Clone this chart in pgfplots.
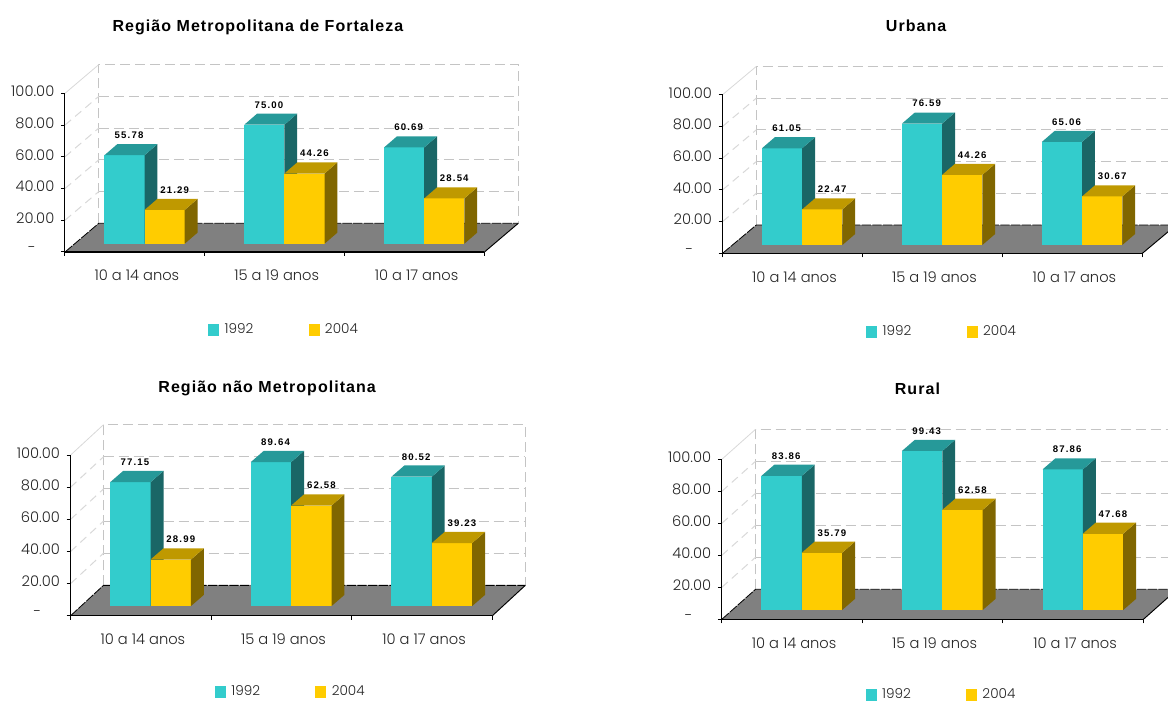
\documentclass[border=0pt]{standalone}
\usepackage{fontspec}
\usepackage{pgfplots}
\pgfplotsset{compat=1.18}
\setmainfont{Poppins}[UprightFont=* Light]
\newfontfamily\titlefont[LetterSpace=6.5]{Liberation Sans}
\newfontfamily\valuefont[LetterSpace=12]{Liberation Sans}

\definecolor{cyanfront}{HTML}{33CCCC}
\definecolor{cyanside}{HTML}{1A6666}
\definecolor{cyantop}{HTML}{269999}
\definecolor{goldfront}{HTML}{FFCC00}
\definecolor{goldside}{HTML}{806600}
\definecolor{goldtop}{HTML}{BF9900}
\definecolor{floorgray}{HTML}{808080}
\definecolor{wallgray}{HTML}{C4C4C4}
\definecolor{sidewall}{HTML}{D8D8D8}
\definecolor{labelgray}{HTML}{262626}

\tikzset{vlabel/.style={font=\valuefont\bfseries\fontsize{7.2}{8}\selectfont,inner sep=0pt,anchor=center}}

% depth of the room and of the bars, in axis units
\newcommand{\setroom}[3]{\def\dX{#1}\def\dY{#2}\def\baseY{#3}\def\bw{0.287}\def\bdx{0.092}\def\bdy{7}}

% floor, back wall and side wall of the chart room
\newcommand{\drawroom}{%
  \pgfmathsetmacro\xbl{\dX}\pgfmathsetmacro\xbr{3+\dX}%
  \pgfmathsetmacro\ytop{100+\dY}%
  \addplot[draw=wallgray,line width=0.75pt,dash pattern=on 7.5pt off 3.75pt,forget plot]
    coordinates {(\xbl,\dY)(\xbl,\ytop)(\xbr,\ytop)(\xbr,\dY)};
  \pgfplotsinvokeforeach{20,40,60,80}{%
    \pgfmathsetmacro\yy{##1+\dY}%
    \addplot[draw=wallgray,line width=0.75pt,dash pattern=on 7.5pt off 3.75pt,forget plot]
      coordinates {(\xbl,\yy)(\xbr,\yy)};
    \addplot[draw=sidewall,line width=0.75pt,dash pattern=on 6pt off 4pt,forget plot]
      coordinates {(0,##1)(\xbl,\yy)};
  }%
  \addplot[draw=sidewall,line width=0.6pt,forget plot] coordinates {(0,100)(\xbl,\ytop)};
  \addplot[fill=floorgray,draw=none,forget plot]
    coordinates {(0,0)(3,0)(\xbr,\dY)(\xbl,\dY)} -- cycle;
  \addplot[draw=black,line width=0.6pt,dash pattern=on 7pt off 1pt,forget plot]
    coordinates {(0,0)(\xbl,\dY)(\xbr,\dY)};
  \addplot[draw=black,line width=0.7pt,forget plot] coordinates {(\xbr,\dY)(3,0)};
}

% one bar: left edge, value, front, side and top colours, label shift
\newcommand{\solidbar}[6]{%
  \pgfmathsetmacro\xa{#1}\pgfmathsetmacro\xb{#1+\bw}%
  \pgfmathsetmacro\xc{\xb+\bdx}\pgfmathsetmacro\xd{\xa+\bdx}%
  \pgfmathsetmacro\ya{\baseY}\pgfmathsetmacro\yb{\baseY+#2}%
  \pgfmathsetmacro\yc{\baseY+\bdy}\pgfmathsetmacro\yd{\yb+\bdy}%
  \pgfmathsetmacro\lx{#1+\bw/2}%
  \addplot[fill=#3,draw=none,forget plot] coordinates {(\xa,\ya)(\xb,\ya)(\xb,\yb)(\xa,\yb)} -- cycle;
  \addplot[fill=#4,draw=none,forget plot] coordinates {(\xb,\ya)(\xc,\yc)(\xc,\yd)(\xb,\yb)} -- cycle;
  \addplot[fill=#5,draw=none,forget plot] coordinates {(\xa,\yb)(\xb,\yb)(\xc,\yd)(\xd,\yd)} -- cycle;
  \edef\tmplabel{\noexpand\node[vlabel,xshift=#6pt,yshift=15pt] at (axis cs:\lx,\yb) {#2};}\tmplabel
}

% the 1992 and 2004 bars of one age group
\newcommand{\barpair}[3]{%
  \solidbar{#1+0.282}{#2}{cyanfront}{cyanside}{cyantop}{3.4}%
  \solidbar{#1+0.569}{#3}{goldfront}{goldside}{goldtop}{7.5}%
}

\pgfplotsset{
  panel/.style={
    scale only axis,
    xmin=0,xmax=3,ymin=0,ymax=100,
    clip=false,
    axis on top,
    axis x line*=bottom,
    axis y line*=left,
    axis line style={-,black,line width=0.75pt},
    x axis line style={line width=1.1pt},
    tick style={black,line width=0.75pt},
    tick align=outside,
    major tick length=3pt,
    xtick={0,1,2,3},
    x tick label as interval,
    xticklabels={10 a 14 anos,15 a 19 anos,10 a 17 anos},
    ytick={0,20,40,60,80,100},
    yticklabels={{\raisebox{-1.5pt}{-}\rule{14pt}{0pt}},20.00,40.00,60.00,80.00,100.00},
    tick label style={font=\fontsize{11}{13}\selectfont,text=labelgray},
    x tick label style={yshift=-7pt,xshift=1.5pt},
    y tick label style={xshift=-1.5pt,yshift=1.5pt},
    title style={font=\titlefont\bfseries\fontsize{12}{14}\selectfont,anchor=center},
    legend columns=2,
    legend cell align=left,
    legend image code/.code={\path[##1] (0pt,-4.5pt) rectangle (8.25pt,4.5pt);},
    legend style={draw=none,fill=none,anchor=center,
      font=\fontsize{10.2}{12}\selectfont,text=labelgray,inner sep=0pt,
      /tikz/column 1/.style={column sep=2pt},
      /tikz/column 2/.style={column sep=39.5pt},
      /tikz/column 3/.style={column sep=2pt}},
  },
}

\begin{document}
\begin{tikzpicture}
\useasboundingbox (0pt,0pt) rectangle (876pt,526.5pt);

% Região Metropolitana de Fortaleza
\setroom{0.2418}{18.1}{5.2}
\begin{axis}[panel,at={(48.75pt,337.5pt)},width=314.6pt,height=119pt,
  title={Região Metropolitana de Fortaleza},
  title style={at={(0.46,1.367)}},
  legend style={at={(0.523,-0.491)}}]
\addlegendimage{fill=cyanfront,draw=none}\addlegendentry{1992}
\addlegendimage{fill=goldfront,draw=none}\addlegendentry{2004}
\drawroom
\barpair{0}{55.78}{21.29}
\barpair{1}{75.00}{44.26}
\barpair{2}{60.69}{28.54}
\end{axis}

% Urbana
\setroom{0.2407}{17.8}{5.2}
\begin{axis}[panel,at={(541.9pt,336.5pt)},width=314.9pt,height=118.95pt,
  title={Urbana},
  title style={at={(0.461,1.386)}},
  legend style={at={(0.524,-0.494)}}]
\addlegendimage{fill=cyanfront,draw=none}\addlegendentry{1992}
\addlegendimage{fill=goldfront,draw=none}\addlegendentry{2004}
\drawroom
\barpair{0}{61.05}{22.47}
\barpair{1}{76.59}{44.26}
\barpair{2}{65.06}{30.67}
\end{axis}

% Região não Metropolitana
\setroom{0.234}{18.9}{6.0}
\begin{axis}[panel,at={(52.95pt,64.7pt)},width=316.35pt,height=120.5pt,
  title={Região não Metropolitana},
  title style={at={(0.466,1.367)}},
  legend style={at={(0.523,-0.473)}}]
\addlegendimage{fill=cyanfront,draw=none}\addlegendentry{1992}
\addlegendimage{fill=goldfront,draw=none}\addlegendentry{2004}
\drawroom
\barpair{0}{77.15}{28.99}
\barpair{1}{89.64}{62.58}
\barpair{2}{80.52}{39.23}
\end{axis}

% Rural
\setroom{0.24}{18.75}{5.8}
\begin{axis}[panel,at={(541.35pt,62pt)},width=316.2pt,height=120pt,
  title={Rural},
  title style={at={(0.464,1.39)}},
  legend style={at={(0.522,-0.472)}}]
\addlegendimage{fill=cyanfront,draw=none}\addlegendentry{1992}
\addlegendimage{fill=goldfront,draw=none}\addlegendentry{2004}
\drawroom
\barpair{0}{83.86}{35.79}
\barpair{1}{99.43}{62.58}
\barpair{2}{87.86}{47.68}
\end{axis}
\end{tikzpicture}
\end{document}
